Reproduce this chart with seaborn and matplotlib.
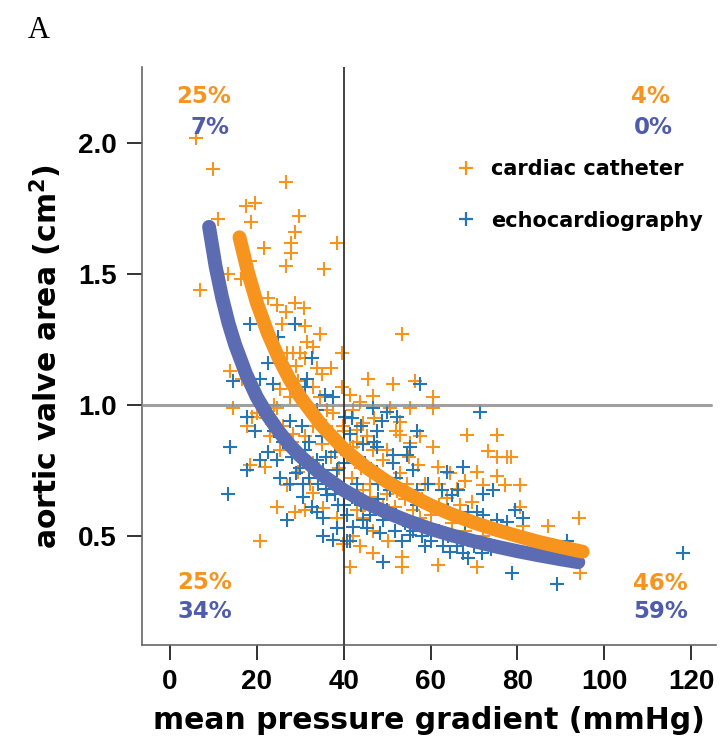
import numpy as np
import pandas as pd
import matplotlib
matplotlib.use("Agg")
import matplotlib.pyplot as plt
import seaborn as sns
from matplotlib import font_manager

sns.set_style("white")
plt.rcParams['font.family'] = ['DejaVu Sans']
plt.rcParams['text.color'] = 'black'
plt.rcParams['axes.labelcolor'] = 'black'
plt.rcParams['xtick.color'] = 'black'
plt.rcParams['ytick.color'] = 'black'

# ---------------- data ----------------
cath_x = [6.0, 9.8, 26.7, 17.5, 19.6, 11.0, 18.6, 29.7, 28.8, 27.8, 27.8, 21.6, 38.4, 26.7, 35.4,
          6.9, 13.3, 16.3, 18.4, 22.6, 24.6, 28.8, 30.8, 53.3,
          26.8, 25.8, 31.0, 34.5, 31.5, 33.0, 28.3, 29.9, 26.9, 39.6, 33.8, 13.8, 16.6, 25.3, 27.6,
          29.5, 33.0, 34.5, 39.6, 41.4, 14.5, 24.6, 20.0, 17.7, 18.9, 23.0, 36.1, 37.6, 42.2, 33.0,
          28.3, 39.8, 41.4,
          45.6, 51.3, 56.4, 46.7, 60.5, 43.7, 50.6, 55.2, 60.5, 68.4, 75.3, 52.9, 52.9, 57.5, 60.5,
          44.4, 43.0, 45.3,
          73.2, 75.3, 77.5, 78.6, 70.6,
          75.3, 80.6, 72.0, 77.1, 67.9, 64.4, 61.7, 57.1, 58.7, 54.5, 52.9, 49.0, 46.7, 49.9, 55.2,
          63.7, 69.5, 66.7, 80.6, 81.3, 87.0, 94.1, 94.4, 70.6, 61.7, 53.4, 53.4, 46.7, 43.7, 41.4,
          50.2, 44.4, 46.7, 43.0, 49.0, 51.8, 57.5, 58.0, 44.4, 46.0, 52.2,
          18.4, 21.9, 24.6, 20.7, 28.8, 31.1, 26.9, 29.5, 25.3, 32.2, 33.0, 35.2, 38.4, 42.2, 39.8,
          42.2, 40.7,
          35.0, 37.0, 33.0, 39.0, 31.0, 36.0, 44.0, 42.0, 46.0, 48.0, 50.0, 54.0, 56.0, 60.0, 62.0,
          65.0, 68.0, 72.0, 58.0, 45.0, 40.0, 38.0, 34.0, 30.0, 28.0, 26.0, 22.0, 24.0, 27.0, 29.0,
          31.0, 35.0, 37.0, 40.0, 43.0, 47.0, 52.0, 55.0, 62.0, 66.0]
cath_y = [2.02, 1.90, 1.85, 1.76, 1.77, 1.71, 1.70, 1.72, 1.66, 1.62, 1.58, 1.60, 1.62, 1.53, 1.52,
          1.44, 1.50, 1.48, 1.55, 1.41, 1.38, 1.39, 1.37, 1.27,
          1.355, 1.31, 1.30, 1.27, 1.24, 1.22, 1.20, 1.20, 1.20, 1.20, 1.14, 1.13, 1.10, 1.06, 1.03,
          1.09, 1.07, 1.03, 1.07, 1.04, 0.99, 0.99, 0.97, 0.92, 0.955, 0.88, 0.98, 0.97, 0.98, 0.92,
          0.89, 0.92, 0.84,
          1.10, 1.08, 1.09, 1.035, 1.03, 1.01, 0.99, 0.99, 0.99, 0.885, 0.885, 0.935, 0.885, 0.88, 0.84,
          0.93, 0.905, 0.88,
          0.825, 0.80, 0.80, 0.80, 0.745,
          0.73, 0.695, 0.695, 0.695, 0.71, 0.74, 0.765, 0.77, 0.70, 0.70, 0.74, 0.79, 0.83, 0.83, 0.855,
          0.645, 0.63, 0.62, 0.61, 0.54, 0.54, 0.57, 0.36, 0.38, 0.39, 0.42, 0.38, 0.435, 0.46, 0.38,
          0.48, 0.57, 0.52, 0.60, 0.62, 0.61, 0.57, 0.64, 0.675, 0.65, 0.67,
          0.77, 0.765, 0.61, 0.48, 0.59, 0.60, 0.695, 0.745, 0.83, 0.70, 0.665, 0.605, 0.57, 0.50, 0.47,
          0.84, 0.81,
          0.85, 0.80, 0.78, 0.76, 0.88, 0.92, 0.76, 0.72, 0.70, 0.72, 0.66, 0.64, 0.60, 0.58, 0.62,
          0.55, 0.52, 0.50, 0.52, 0.62, 0.66, 0.70, 0.74, 0.80, 0.86, 0.92, 0.95, 1.00, 1.12, 1.15,
          1.18, 1.12, 1.14, 0.90, 0.86, 0.95, 0.90, 0.80, 0.70, 0.68]

echo_x = [18.4, 28.8, 24.8, 22.6, 32.7, 14.5, 20.7, 23.7, 31.5, 31.0, 35.7, 37.5, 17.7, 19.6, 27.6,
          30.4, 33.8, 40.3, 13.8, 41.4,
          57.5, 71.3, 46.7, 49.9, 52.2, 48.8, 47.6, 56.8, 41.9, 44.4, 55.2,
          47.6, 67.4, 63.7, 59.4, 62.6, 66.3, 64.9, 72.0, 74.3, 68.6, 72.0, 70.6, 79.4, 75.3, 77.5,
          81.3, 91.4, 78.7, 89.0, 71.8, 68.6, 67.4, 64.4, 66.0, 62.9, 58.7, 55.2, 51.8, 49.0, 53.4,
          48.3, 45.3, 42.1, 41.4, 44.4, 49.0, 53.6, 46.0, 56.8, 50.6, 56.8, 43.0, 47.6, 51.3, 54.5,
          51.3, 118.0,
          13.3, 20.7, 17.7, 22.6, 24.6, 25.3, 27.6, 29.1, 30.6, 26.9, 30.6, 32.7, 33.8, 35.2, 35.2,
          37.5, 38.4, 40.7, 38.4, 35.2, 33.8, 31.1, 36.1, 38.7, 40.7,
          28.0, 30.0, 32.0, 34.0, 36.0, 38.0, 40.0, 42.0, 44.0, 46.0, 48.0, 50.0, 52.0, 54.0, 56.0,
          58.0, 60.0, 62.0, 64.0, 66.0, 70.0, 74.0, 35.0, 38.0, 40.0, 42.0, 45.0, 48.0, 52.0, 56.0,
          26.0, 24.0, 22.0, 32.0, 36.0, 44.0, 47.0, 60.0, 64.0, 68.0]
echo_y = [1.31, 1.31, 1.26, 1.16, 1.18, 1.09, 1.10, 1.08, 1.10, 1.07, 1.04, 1.03, 0.955, 0.90, 0.94,
          0.92, 0.98, 0.955, 0.84, 0.89,
          1.08, 0.975, 0.99, 0.975, 0.955, 0.94, 0.90, 0.90, 0.95, 0.85, 0.84,
          0.84, 0.765, 0.745, 0.70, 0.675, 0.675, 0.655, 0.66, 0.675, 0.59, 0.58, 0.59, 0.60, 0.56, 0.555,
          0.57, 0.48, 0.36, 0.315, 0.435, 0.415, 0.435, 0.44, 0.46, 0.46, 0.46, 0.505, 0.52, 0.40, 0.48,
          0.51, 0.53, 0.535, 0.48, 0.56, 0.56, 0.56, 0.61, 0.62, 0.675, 0.675, 0.70, 0.745, 0.78, 0.81,
          0.81, 0.435,
          0.66, 0.79, 0.75, 0.82, 0.79, 0.72, 0.70, 0.74, 0.70, 0.56, 0.65, 0.61, 0.59, 0.57, 0.50,
          0.485, 0.53, 0.48, 0.75, 0.75, 0.79, 0.83, 0.655, 0.62, 0.58,
          0.80, 0.76, 0.72, 0.70, 0.68, 0.66, 0.62, 0.65, 0.62, 0.58, 0.64, 0.60, 0.58, 0.55, 0.52,
          0.50, 0.48, 0.52, 0.50, 0.48, 0.46, 0.45, 0.88, 0.82, 0.78, 0.80, 0.78, 0.70, 0.72, 0.75,
          0.86, 0.90, 0.96, 0.86, 0.80, 0.92, 0.86, 0.62, 0.60, 0.55]

# fitted curves, points
cath_fit_x = [16, 18, 20, 22.5, 25, 27.5, 30, 35, 40, 45, 50, 55, 60, 65, 70, 75, 80, 85, 90, 95]
cath_fit_y = [1.64, 1.503, 1.39, 1.275, 1.18, 1.099, 1.03, 0.92, 0.833, 0.764, 0.707, 0.659,
              0.617, 0.582, 0.551, 0.524, 0.50, 0.477, 0.458, 0.44]
echo_fit_x = [9, 10.5, 12, 13.5, 15, 17.5, 20, 22.5, 25, 27.5, 30, 35, 40, 45, 50, 55, 60, 65,
              70, 75, 80, 85, 90, 94]
echo_fit_y = [1.68, 1.529, 1.41, 1.311, 1.23, 1.119, 1.03, 0.96, 0.90, 0.849, 0.805, 0.733, 0.675,
              0.628, 0.589, 0.556, 0.527, 0.502, 0.48, 0.46, 0.442, 0.426, 0.411, 0.40]

series_labels = ["cardiac catheter", "echocardiography"]
quad_cath = ["25%", "4%", "25%", "46%"]   # UL, UR, LL, LR
quad_echo = ["7%", "0%", "34%", "59%"]
x_ticks = [0, 20, 40, 60, 80, 100, 120]
y_ticks = [0.5, 1.0, 1.5, 2.0]

# ---------------- styling ----------------
ORANGE = "#F7941E"
BLUE_PT = "#2676B6"
BLUE_LINE = "#5C6CB3"
BLUE_TXT = "#4E5CAA"

W, H = 721, 737
fig = plt.figure(figsize=(W / 100, H / 100), dpi=100)
ax = fig.add_axes([142 / W, (H - 645) / H, (716 - 142) / W, (645 - 67) / H])

df_c = pd.DataFrame({"x": cath_x, "y": cath_y})
df_e = pd.DataFrame({"x": echo_x, "y": echo_y})

sns.scatterplot(data=df_c, x="x", y="y", ax=ax, marker="+", color=ORANGE, s=95,
                linewidth=1.5, zorder=2, legend=False)
sns.scatterplot(data=df_e, x="x", y="y", ax=ax, marker="+", color=BLUE_PT, s=95,
                linewidth=1.5, zorder=2, legend=False)

ax.axhline(1.0, xmax=(124.5 + 6.44) / (125.7 + 6.44), color="#8f8f8f", lw=2.2,
           alpha=0.85, zorder=3)
ax.axvline(40, color="#333333", lw=1.3, zorder=3)

sns.lineplot(x=echo_fit_x, y=echo_fit_y, ax=ax, color=BLUE_LINE, lw=10, sort=False,
             estimator=None, solid_capstyle="round", zorder=4)
sns.lineplot(x=cath_fit_x, y=cath_fit_y, ax=ax, color=ORANGE, lw=10, sort=False,
             estimator=None, solid_capstyle="round", zorder=5)

ax.set_xlim(-6.44, 125.7)
ax.set_ylim(0.084, 2.29)

for s in ["top", "right"]:
    ax.spines[s].set_visible(False)
for s in ["left", "bottom"]:
    ax.spines[s].set_color("#666666")
    ax.spines[s].set_linewidth(1.2)

tick_font = font_manager.FontProperties(family=["Liberation Sans Narrow", "Liberation Sans"],
                                        weight="bold", size=20)
ax.set_xticks(x_ticks)
ax.set_yticks(y_ticks)
ax.set_xticklabels([str(t) for t in x_ticks], fontproperties=tick_font)
ax.set_yticklabels([f"{t:.1f}" for t in y_ticks], fontproperties=tick_font)
ax.tick_params(axis="both", direction="out", length=11, width=1.3, color="#222222",
               left=True, bottom=True, labelcolor="black")
ax.tick_params(axis="x", pad=6)
ax.tick_params(axis="y", pad=7)

ax.set_xlabel("mean pressure gradient (mmHg)", fontsize=21.5, fontweight="bold",
              family="DejaVu Sans", labelpad=8, color="black")
ax.set_ylabel("aortic valve area (cm$^\\mathbf{2}$)", fontsize=21.5, fontweight="bold",
              family="DejaVu Sans", labelpad=10, color="black")

# quadrant percentages
qpos_c = [(7.8, 2.176), (110.7, 2.176), (8.1, 0.324), (112.8, 0.317)]
qpos_e = [(9.2, 2.06), (111.2, 2.06), (8.1, 0.21), (113.0, 0.21)]
for (px, py), t in zip(qpos_c, quad_cath):
    ax.text(px, py, t, color=ORANGE, fontsize=16.5, fontweight="bold",
            ha="center", va="center", zorder=6)
for (px, py), t in zip(qpos_e, quad_echo):
    ax.text(px, py, t, color=BLUE_TXT, fontsize=16.5, fontweight="bold",
            ha="center", va="center", zorder=6)

# legend
h1 = plt.Line2D([], [], marker="+", color=ORANGE, ls="none", markersize=10, mew=1.6)
h2 = plt.Line2D([], [], marker="+", color=BLUE_PT, ls="none", markersize=10, mew=1.6)
leg = ax.legend([h1, h2], series_labels, loc="upper left", bbox_to_anchor=(0.547, 0.84),
                frameon=False, borderpad=0, handlelength=1.0, handletextpad=0.67,
                labelspacing=1.5, borderaxespad=0,
                prop=dict(family="DejaVu Sans", weight="bold", size=15))
for t in leg.get_texts():
    t.set_color("black")

fig.text(28 / W, 1 - 30 / H, "A", family="Liberation Serif", fontsize=22,
         ha="left", va="center", color="black")

fig.savefig("out.png", dpi=100)
